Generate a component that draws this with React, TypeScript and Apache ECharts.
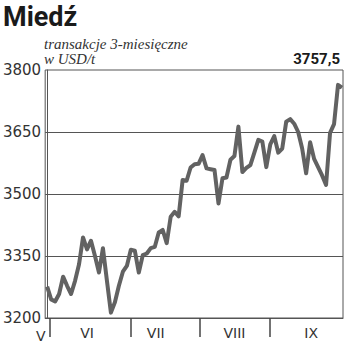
import React, { useEffect, useRef } from "react";
import * as echarts from "echarts";

// Daily 3-month copper prices (USD/t)
const prices: number[] = [
  3276, 3245, 3240, 3258, 3300, 3278, 3258, 3290, 3330, 3395,
  3366, 3387, 3350, 3310, 3369, 3290, 3213, 3238, 3278, 3312,
  3326, 3365, 3363, 3310, 3352, 3356, 3369, 3372, 3407, 3413,
  3381, 3445, 3457, 3446, 3534, 3532, 3564, 3572, 3573, 3594,
  3562, 3560, 3558, 3477, 3538, 3540, 3583, 3592, 3663, 3553,
  3563, 3570, 3600, 3631, 3627, 3565, 3620, 3640, 3600, 3610,
  3675, 3681, 3670, 3650, 3610, 3550, 3625, 3585, 3565, 3545,
  3522, 3648, 3669, 3764, 3757.5,
];

const yTicks: number[] = [3200, 3350, 3500, 3650, 3800];
const gridValues: number[] = [3350, 3500, 3650];
const monthTickPositions: number[] = [0.75, 21, 38.25, 55.75];
const monthLabelPositions: number[] = [10, 27.25, 47, 66.25];
const monthLabels: string[] = ["VI", "VII", "VIII", "IX"];

const title = "Miedź";
const subtitle1 = "transakcje 3-miesięczne";
const subtitle2 = "w USD/t";
const lastValueLabel = "3757,5";

export default function App() {
  const ref = useRef<HTMLDivElement>(null);
  useEffect(() => {
    if (!ref.current) return;
    const chart = echarts.init(ref.current, undefined, { renderer: "svg" });
    const sans = "DejaVu Sans";
    chart.setOption({
      animation: false,
      backgroundColor: "#ffffff",
      grid: {
        left: 44,
        right: 7,
        top: 70,
        bottom: 34,
        show: true,
        borderColor: "#555",
        borderWidth: 1,
      },
      xAxis: {
        type: "value",
        min: -0.5,
        max: 74.25,
        splitLine: { show: false },
        axisLine: { show: true, lineStyle: { color: "#555", width: 1 } },
        axisTick: {
          show: true,
          customValues: monthTickPositions,
          length: 19,
          inside: false,
          lineStyle: { color: "#444", width: 1.5 },
        },
        axisLabel: {
          customValues: monthLabelPositions,
          formatter: (v: number) => {
            const i = monthLabelPositions.indexOf(v);
            return i >= 0 ? monthLabels[i] : "";
          },
          margin: 8,
          fontFamily: sans,
          fontSize: 14,
          color: "#333",
        },
      },
      yAxis: {
        type: "value",
        min: 3200,
        max: 3800,
        splitLine: { show: false },
        axisLine: { show: true, lineStyle: { color: "#555", width: 1 } },
        axisTick: { show: false },
        axisLabel: {
          customValues: yTicks,
          formatter: (v: number) => String(v),
          margin: 4,
          fontFamily: sans,
          fontSize: 15,
          color: "#333",
          padding: [7, 0, 0, 0],
        },
      },
      graphic: [
        {
          type: "text",
          x: 3,
          y: 17,
          style: {
            text: title,
            font: "bold 27px Roboto",
            fill: "#1a1a1a",
            verticalAlign: "middle",
          },
        },
        {
          type: "text",
          x: 44,
          y: 44,
          style: {
            text: subtitle1,
            font: "italic 15px 'Liberation Serif'",
            fill: "#333",
            verticalAlign: "middle",
          },
        },
        {
          type: "text",
          x: 44,
          y: 59,
          style: {
            text: subtitle2,
            font: "italic 15px 'Liberation Serif'",
            fill: "#333",
            verticalAlign: "middle",
          },
        },
        {
          type: "text",
          x: 340,
          y: 59,
          style: {
            text: lastValueLabel,
            font: "bold 15px Roboto",
            fill: "#1a1a1a",
            align: "right",
            verticalAlign: "middle",
          },
        },
        {
          type: "text",
          x: 36,
          y: 336,
          style: {
            text: "V",
            font: "14px 'DejaVu Sans'",
            fill: "#333",
            verticalAlign: "middle",
          },
        },
      ],
      series: [
        {
          type: "line",
          data: prices.map((p, i) => [i, p]),
          showSymbol: false,
          symbol: "none",
          lineStyle: { color: "#626262", width: 4, join: "round" },
          markLine: {
            silent: true,
            symbol: "none",
            label: { show: false },
            lineStyle: { color: "#555", width: 1, type: "solid" },
            data: gridValues.map((v) => ({ yAxis: v })),
            z: 1,
          },
          z: 3,
        },
      ],
    });
    return () => chart.dispose();
  }, []);
  return (
    <div
      ref={ref}
      style={{ position: "fixed", left: 0, top: 0, width: 350, height: 352 }}
    />
  );
}
